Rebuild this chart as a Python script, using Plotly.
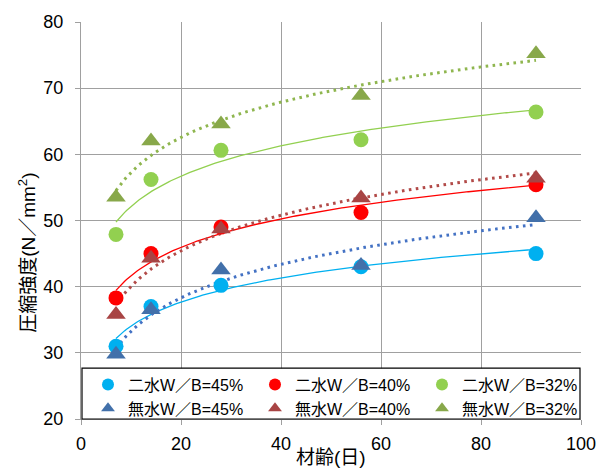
import numpy as np
import plotly.graph_objects as go

# 材齢(日)
days = [7, 14, 28, 56, 91]

# 圧縮強度 (N/mm2)
nisui_45 = [31.0, 37.0, 40.2, 43.0, 45.0]
nisui_40 = [38.3, 45.0, 49.0, 51.2, 55.4]
nisui_32 = [47.9, 56.2, 60.6, 62.2, 66.4]
musui_45 = [29.8, 36.5, 42.5, 43.2, 50.4]
musui_40 = [35.8, 44.3, 48.7, 53.4, 56.4]
musui_32 = [53.5, 62.0, 64.6, 68.9, 75.2]

series = [
    ("二水W／B=45%", nisui_45, "circle", "#00B0F0", "#00B0F0", "solid"),
    ("二水W／B=40%", nisui_40, "circle", "#FF0000", "#FF0000", "solid"),
    ("二水W／B=32%", nisui_32, "circle", "#92D050", "#92D050", "solid"),
    ("無水W／B=45%", musui_45, "triangle-up", "#4270AA", "#4472C4", "dot"),
    ("無水W／B=40%", musui_40, "triangle-up", "#A84444", "#B24A48", "dot"),
    ("無水W／B=32%", musui_32, "triangle-up", "#88A84A", "#8FB64F", "dot"),
]

FONT = "Liberation Sans, Noto Sans CJK JP, sans-serif"

fig = go.Figure()

# logarithmic trendlines y = a*ln(x) + b
xs = np.linspace(min(days), max(days), 200)
for name, vals, sym, mcol, lcol, style in series:
    a, b = np.polyfit(np.log(days), vals, 1)
    if style == "solid":
        line = dict(color=lcol, width=1.3)
    else:
        line = dict(color=lcol, width=3, dash="2.6px,4.4px")
    fig.add_trace(go.Scatter(x=xs, y=a * np.log(xs) + b, mode="lines", line=line,
                             showlegend=False, hoverinfo="skip"))

for name, vals, sym, mcol, lcol, style in series:
    size = 15 if sym == "circle" else 17
    fig.add_trace(go.Scatter(x=days, y=vals, mode="markers", name=name,
                             marker=dict(symbol=sym, size=size, color=mcol,
                                         line=dict(width=0))))

# legend frame (white box on the bottom of the plot area)
fig.add_shape(type="rect", xref="paper", yref="paper",
              x0=0.002, x1=0.998, y0=0.0, y1=0.128,
              fillcolor="white", line=dict(color="#000000", width=1.2),
              layer="above")

# axis titles
fig.add_annotation(text="材齢(日)", xref="paper", yref="paper",
                   x=0.5, y=0, xanchor="center", yanchor="middle", yshift=-38,
                   showarrow=False, font=dict(family=FONT, size=19, color="#000000"))
fig.add_annotation(text="圧縮強度(N／mm<sup>2</sup>)", xref="paper", yref="paper",
                   x=0, y=0.4185, xanchor="center", yanchor="middle", xshift=-54,
                   textangle=-90, showarrow=False,
                   font=dict(family=FONT, size=19, color="#000000"))

fig.update_layout(
    width=608, height=470,
    margin=dict(l=81, r=26, t=20, b=51),
    paper_bgcolor="white", plot_bgcolor="white",
    font=dict(family=FONT, size=16, color="#000000"),
    legend=dict(
        orientation="h", x=0.014, y=-0.0165, xanchor="left", yanchor="bottom",
        xref="paper", yref="paper",
        bgcolor="rgba(0,0,0,0)", borderwidth=0,
        entrywidth=122, entrywidthmode="pixels",
        font=dict(family=FONT, size=16, color="#000000"),
        traceorder="normal", itemsizing="constant",
        tracegroupgap=0,
    ),
    xaxis=dict(
        range=[0, 100], dtick=20, tick0=0,
        showgrid=True, gridcolor="#A0A0A0", gridwidth=1.3,
        showline=True, linecolor="#A0A0A0", linewidth=1,
        ticks="outside", ticklen=5, tickcolor="#A0A0A0",
        zeroline=False, ticklabelstandoff=3,
        tickfont=dict(family=FONT, size=18, color="#000000"),
    ),
    yaxis=dict(
        range=[20, 80], dtick=10, tick0=20,
        showgrid=True, gridcolor="#A0A0A0", gridwidth=1.3,
        showline=True, linecolor="#A0A0A0", linewidth=1,
        ticks="outside", ticklen=5, tickcolor="#A0A0A0",
        zeroline=False, ticklabelstandoff=8,
        tickfont=dict(family=FONT, size=18, color="#000000"),
    ),
)

fig.write_html("out.html")
